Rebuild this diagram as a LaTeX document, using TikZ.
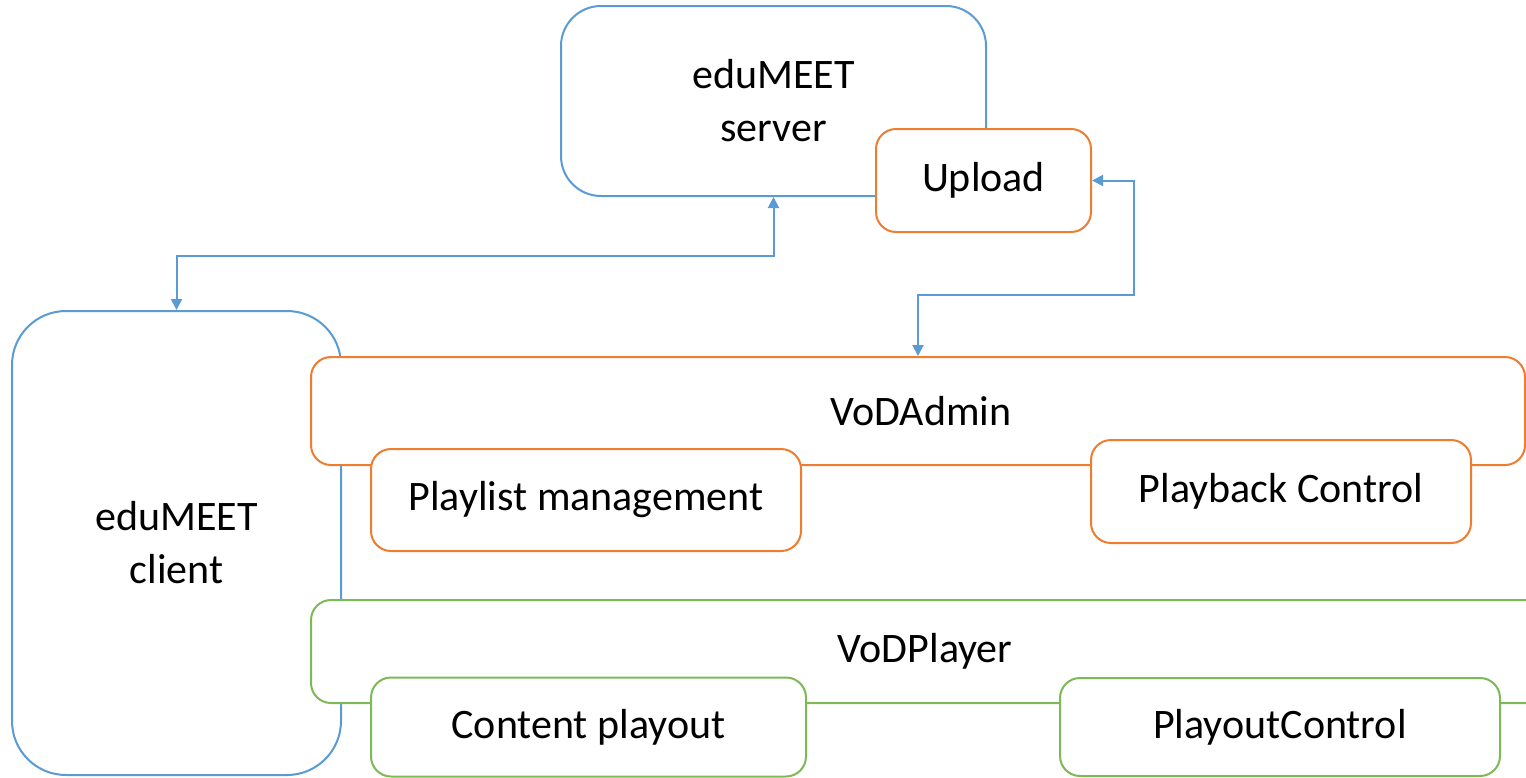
\documentclass[tikz,border=0pt]{standalone}
\usepackage{fontspec}
\setmainfont{Carlito}
\usetikzlibrary{arrows.meta}
\definecolor{cblue}{HTML}{5B9BD5}
\definecolor{corange}{HTML}{ED7D31}
\definecolor{cgreen}{HTML}{7DB957}
\begin{document}
\begin{tikzpicture}[x=0.5pt,y=-0.5pt,
  box/.style={draw, line width=1pt, fill=white, rounded corners=#1, inner sep=0pt,
    align=center, font=\fontsize{21}{26.5}\selectfont},
  bluebox/.style={box=#1, draw=cblue},
  orangebox/.style={box=#1, draw=corange},
  greenbox/.style={box=#1, draw=cgreen},
  label/.style={font=\fontsize{21}{26.5}\selectfont, inner sep=0pt},
  conn/.style={draw=cblue, line width=1pt,
    {Triangle[length=5.5pt,width=5.5pt]}-{Triangle[length=5.5pt,width=5.5pt]}}]
\clip (0,0) rectangle (1526,777);
\fill[white] (0,0) rectangle (1526,777);
% server
\node[bluebox=20pt, minimum width=212.5pt, minimum height=95pt] (server) at (773.5,101) {eduMEET\\server};
\node[orangebox=10pt, minimum width=107.5pt, minimum height=51.5pt] (upload) at (983.5,180.5) {Upload};
% client
\node[bluebox=27pt, minimum width=164.5pt, minimum height=232pt] (client) at (176.5,543) {eduMEET\\client};
% VoDAdmin
\node[orangebox=10pt, minimum width=607pt, minimum height=54pt] (vodadmin) at (918,411) {};
\node[label] (vodadmintext) at (921,411) {VoDAdmin};
\node[orangebox=10pt, minimum width=215pt, minimum height=51pt] (playlist) at (586,500) {Playlist management};
\node[orangebox=10pt, minimum width=190pt, minimum height=51.5pt] (playback) at (1281,491.5) {Playback Control};
% VoDPlayer (runs past the right edge)
\node[greenbox=10pt, minimum width=644.5pt, minimum height=51.5pt] (vodplayer) at (955.5,651.5) {};
\node[label] (vodplayertext) at (925,651.5) {VoDPlayer};
\node[greenbox=10pt, minimum width=217.5pt, minimum height=49.5pt] (content) at (588.5,727) {Content playout};
\node[greenbox=10pt, minimum width=220pt, minimum height=49pt] (playout) at (1280,727) {PlayoutControl};
% connectors
\draw[conn] (server.south) -- ++(0,59) -| (client.north);
\draw[conn] (upload.east) -- ++(42,0) -- ++(0,114) -| (vodadmin.north);
\end{tikzpicture}
\end{document}
